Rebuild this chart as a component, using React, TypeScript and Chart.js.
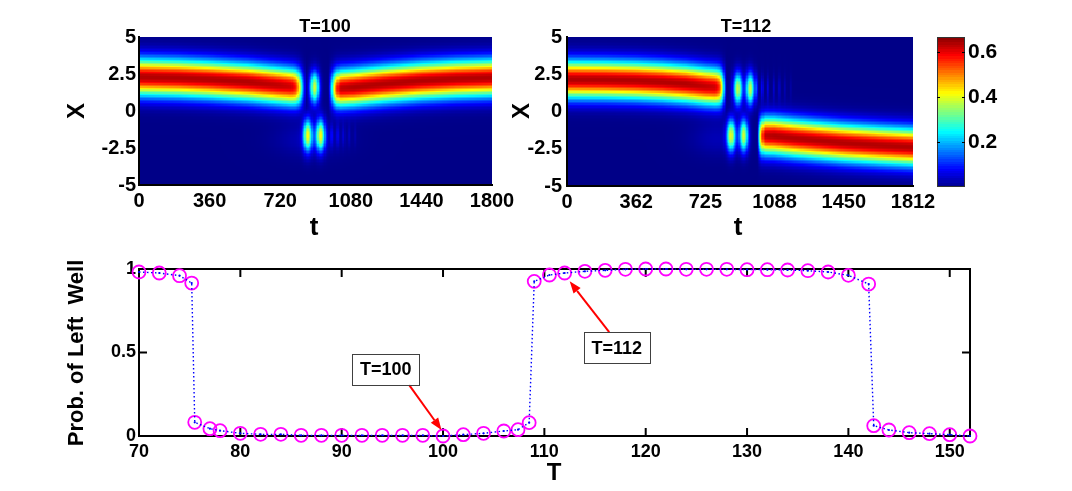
import React, { useEffect, useRef } from 'react';
import { Chart, registerables } from 'chart.js';

Chart.register(...registerables);

const FONT = "'Liberation Sans', Arial, Helvetica, sans-serif";

// ---------------- bottom panel: probability vs T ----------------
const sweepT = [70, 72, 74, 75.2, 75.5, 77, 78, 80, 82, 84, 86, 88, 90, 92, 94, 96, 98, 100, 102, 104, 106,
  107.4, 108.5, 109, 110.5, 112, 114, 116, 118, 120, 122, 124, 126, 128, 130, 132, 134, 136, 138, 140, 142,
  142.5, 144, 146, 148, 150, 152];
const probLeft = [0.982, 0.976, 0.96, 0.916, 0.082, 0.044, 0.032, 0.016, 0.01, 0.01, 0.004, 0.004, 0.004, 0.004,
  0.004, 0.004, 0.004, 0.0, 0.008, 0.016, 0.03, 0.038, 0.08, 0.926, 0.964, 0.976, 0.986, 0.992, 0.998, 1.0, 1.0,
  0.998, 0.998, 0.998, 0.996, 0.996, 0.994, 0.99, 0.982, 0.962, 0.91, 0.062, 0.036, 0.02, 0.014, 0.008, 0.0];
const sweepTicksX = [70, 80, 90, 100, 110, 120, 130, 140, 150];
const sweepTicksY = [0, 0.5, 1];

// annotations (data coordinates)
const noteLabels = ['T=100', 'T=112'];
const noteBoxT = [94.35, 117.15];
const noteBoxP = [0.40, 0.527];
const noteTailT = [96.65, 116.4];
const noteTailP = [0.306, 0.622];
const noteHeadT = [99.85, 112.5];
const noteHeadP = [0.036, 0.926];

// ---------------- heatmap panels ----------------
const t100Ticks = [0, 360, 720, 1080, 1440, 1800];
const t100TickLabels = ['0', '360', '720', '1080', '1440', '1800'];
const t112Ticks = [0, 362.4, 724.8, 1087.2, 1449.6, 1812];
const t112TickLabels = ['0', '362', '725', '1088', '1450', '1812'];
const xPosTicks = [-5, -2.5, 0, 2.5, 5];
const colorTicks = [0.2, 0.4, 0.6];
const colorMax = 0.668;

// T=100: ridge in the upper well before the crossing
const t100RidgeAT = [0, 200, 360, 560, 720, 780, 800, 812, 825, 840, 855];
const t100RidgeAX = [2.32, 2.26, 2.16, 1.98, 1.76, 1.68, 1.65, 1.63, 1.61, 1.59, 1.57];
const t100RidgeAP = [0.64, 0.64, 0.64, 0.64, 0.63, 0.62, 0.58, 0.5, 0.36, 0.17, 0.0];
// T=100: ridge in the upper well after the crossing
const t100RidgeBT = [968, 982, 995, 1010, 1030, 1100, 1250, 1440, 1620, 1800];
const t100RidgeBX = [1.52, 1.53, 1.54, 1.55, 1.57, 1.64, 1.85, 2.07, 2.2, 2.27];
const t100RidgeBP = [0.0, 0.18, 0.38, 0.55, 0.63, 0.64, 0.64, 0.64, 0.64, 0.64];
// T=100: lobes (t, x, peak, t-width, x-width)
const t100LobeT = [898, 863, 928, 880, 985, 1015, 1045, 1075, 1105];
const t100LobeX = [1.62, -1.6, -1.6, -1.9, -1.6, -1.6, -1.6, -1.6, -1.6];
const t100LobeP = [0.39, 0.39, 0.39, 0.035, 0.06, 0.05, 0.04, 0.03, 0.02];
const t100LobeWT = [24, 23, 23, 170, 7, 7, 7, 7, 7];
const t100LobeWX = [1.05, 1.05, 1.05, 1.1, 0.75, 0.75, 0.75, 0.75, 0.75];

// T=112: ridge in the upper well before the crossing
const t112RidgeAT = [0, 200, 362, 500, 627, 725, 780, 800, 812, 825, 838];
const t112RidgeAX = [2.18, 2.16, 2.11, 2.02, 1.89, 1.74, 1.68, 1.66, 1.65, 1.64, 1.63];
const t112RidgeAP = [0.64, 0.64, 0.64, 0.64, 0.64, 0.63, 0.62, 0.56, 0.45, 0.22, 0.0];
// T=112: ridge in the lower well after the crossing
const t112RidgeBT = [998, 1010, 1022, 1040, 1088, 1200, 1450, 1650, 1812];
const t112RidgeBX = [-1.64, -1.64, -1.63, -1.6, -1.62, -1.78, -2.08, -2.25, -2.36];
const t112RidgeBP = [0.0, 0.3, 0.52, 0.63, 0.64, 0.64, 0.64, 0.64, 0.64];
// T=112: lobes
const t112LobeT = [897, 962, 862, 928, 790, 995, 1025, 1055, 1085, 1115, 1145, 1175];
const t112LobeX = [1.56, 1.56, -1.58, -1.58, -1.8, 1.6, 1.6, 1.6, 1.6, 1.6, 1.6, 1.6];
const t112LobeP = [0.38, 0.38, 0.38, 0.38, 0.03, 0.09, 0.08, 0.065, 0.05, 0.04, 0.03, 0.02];
const t112LobeWT = [23, 23, 23, 23, 140, 6, 6, 6, 6, 6, 6, 6];
const t112LobeWX = [1.05, 1.05, 1.05, 1.05, 1.1, 0.85, 0.85, 0.85, 0.85, 0.85, 0.85, 0.85];

const RIDGE_WIDTH = 1.2;

function sampleRidge(ts: number[], xs: number[], ps: number[], t: number) {
  if (t < ts[0] || t > ts[ts.length - 1]) return null;
  for (let i = 0; i < ts.length - 1; i++) {
    if (t >= ts[i] && t <= ts[i + 1]) {
      const f = (t - ts[i]) / (ts[i + 1] - ts[i]);
      return { c: xs[i] + f * (xs[i + 1] - xs[i]), p: ps[i] + f * (ps[i + 1] - ps[i]) };
    }
  }
  return null;
}

type Cell = { x: number; y: number; v: number };

function buildCells(
  tMax: number,
  ridges: [number[], number[], number[]][],
  lobes: { t: number[]; x: number[]; p: number[]; wt: number[]; wx: number[] },
  nCols: number,
  nRows: number
) {
  const cells: Cell[] = [];
  const dt = tMax / nCols;
  const dx = 10 / nRows;
  for (let i = 0; i < nCols; i++) {
    const t = (i + 0.5) * dt;
    const rs = ridges.map((r) => sampleRidge(r[0], r[1], r[2], t)).filter(Boolean) as { c: number; p: number }[];
    for (let j = 0; j < nRows; j++) {
      const x = -5 + (j + 0.5) * dx;
      let v = 0;
      for (const r of rs) v += r.p * Math.exp(-(((x - r.c) / RIDGE_WIDTH) ** 2));
      for (let k = 0; k < lobes.t.length; k++) {
        v += lobes.p[k] * Math.exp(-(((t - lobes.t[k]) / lobes.wt[k]) ** 2) - ((x - lobes.x[k]) / lobes.wx[k]) ** 2);
      }
      cells.push({ x: t, y: x, v });
    }
  }
  return { cells, dt, dx };
}

function jet(v: number) {
  const s = Math.max(0, Math.min(1, v / colorMax));
  const q = s * (63 / 64) + 0.5 / 64;
  const ch = (o: number) => Math.round(255 * Math.max(0, Math.min(1, 1.5 - Math.abs(4 * q - o))));
  return `rgb(${ch(3)},${ch(2)},${ch(1)})`;
}

function cellPlugin(cw: number, chh: number) {
  return {
    id: 'cells',
    beforeDatasetsDraw(chart: any) {
      const ds = chart.data.datasets[0];
      const xs = chart.scales.x;
      const ys = chart.scales.y;
      const ctx = chart.ctx as CanvasRenderingContext2D;
      const { left, right, top, bottom } = chart.chartArea;
      ctx.save();
      ctx.beginPath();
      ctx.rect(left, top, right - left, bottom - top);
      ctx.clip();
      for (const c of ds.data as Cell[]) {
        const x0 = Math.floor(xs.getPixelForValue(c.x - cw / 2));
        const x1 = Math.ceil(xs.getPixelForValue(c.x + cw / 2));
        const y0 = Math.floor(ys.getPixelForValue(c.y + chh / 2));
        const y1 = Math.ceil(ys.getPixelForValue(c.y - chh / 2));
        ctx.fillStyle = jet(c.v);
        ctx.fillRect(x0, y0, x1 - x0, y1 - y0);
      }
      ctx.restore();
    },
  };
}

function textPlugin(items: { text: string; x: number; y: number; size: number; rotate?: boolean }[]) {
  return {
    id: 'texts',
    afterDraw(chart: any) {
      const ctx = chart.ctx as CanvasRenderingContext2D;
      ctx.save();
      ctx.fillStyle = '#000';
      ctx.textAlign = 'center';
      ctx.textBaseline = 'middle';
      for (const it of items) {
        ctx.font = `bold ${it.size}px ${FONT}`;
        ctx.save();
        ctx.translate(it.x, it.y);
        if (it.rotate) ctx.rotate(-Math.PI / 2);
        ctx.fillText(it.text, 0, 0);
        ctx.restore();
      }
      ctx.restore();
    },
  };
}

const tickFont = (size: number) => ({ family: FONT, size, weight: 'bold' as const });

function heatmapChart(
  canvas: HTMLCanvasElement,
  o: {
    grid: { cells: Cell[]; dt: number; dx: number };
    tMax: number;
    ticks: number[];
    tickLabels: string[];
    yAxisW: number;
    xAxisH: number;
    padRight: number;
    yTickPad: number;
    texts: { text: string; x: number; y: number; size: number; rotate?: boolean }[];
  }
) {
  return new Chart(canvas, {
    type: 'scatter',
    data: { datasets: [{ data: o.grid.cells as any, pointRadius: 0, pointHoverRadius: 0 }] },
    options: {
      responsive: false,
      animation: false,
      events: [],
      layout: { padding: { left: 0, top: 37, right: o.padRight, bottom: 0 } },
      plugins: { legend: { display: false }, tooltip: { enabled: false } },
      scales: {
        x: {
          type: 'linear',
          min: 0,
          max: o.tMax,
          afterBuildTicks: (s: any) => {
            s.ticks = o.ticks.map((v) => ({ value: v }));
          },
          afterFit: (s: any) => {
            s.height = o.xAxisH;
          },
          ticks: {
            autoSkip: false,
            maxRotation: 0,
            minRotation: 0,
            padding: 4,
            color: '#000',
            font: tickFont(20),
            callback: (_v: any, i: number) => o.tickLabels[i],
          },
          grid: { display: false, drawTicks: false },
          border: { display: true, color: '#000', width: 2, z: 1 },
        },
        y: {
          type: 'linear',
          min: -5,
          max: 5,
          afterBuildTicks: (s: any) => {
            s.ticks = xPosTicks.map((v) => ({ value: v }));
          },
          afterFit: (s: any) => {
            s.width = o.yAxisW;
          },
          ticks: {
            autoSkip: false,
            padding: o.yTickPad,
            color: '#000',
            font: tickFont(20),
            callback: (v: any) => String(v),
          },
          grid: { display: false, drawTicks: false },
          border: { display: true, color: '#000', width: 2, z: 1 },
        },
      },
    } as any,
    plugins: [cellPlugin(o.grid.dt, o.grid.dx), textPlugin(o.texts)],
  });
}

function colorbarChart(canvas: HTMLCanvasElement) {
  const n = 64;
  const h = colorMax / n;
  const cells: Cell[] = [];
  for (let i = 0; i < n; i++) cells.push({ x: 0.5, y: (i + 0.5) * h, v: (i + 0.5) * h });
  return new Chart(canvas, {
    type: 'scatter',
    data: { datasets: [{ data: cells as any, pointRadius: 0, pointHoverRadius: 0 }] },
    options: {
      responsive: false,
      animation: false,
      events: [],
      layout: { padding: { left: 37, top: 37, right: 0, bottom: 58 } },
      plugins: { legend: { display: false }, tooltip: { enabled: false } },
      scales: {
        x: { type: 'linear', min: 0, max: 1, display: false },
        y: {
          type: 'linear',
          position: 'right',
          min: 0,
          max: colorMax,
          afterBuildTicks: (s: any) => {
            s.ticks = colorTicks.map((v) => ({ value: v }));
          },
          afterFit: (s: any) => {
            s.width = 107;
          },
          ticks: { autoSkip: false, padding: 3, color: '#000', font: tickFont(21), callback: (v: any) => String(v) },
          grid: { display: false, drawTicks: false },
          border: { display: false },
        },
      },
    } as any,
    plugins: [
      cellPlugin(1, h),
      {
        id: 'cbFrame',
        afterDraw(chart: any) {
          const ctx = chart.ctx as CanvasRenderingContext2D;
          const { left, right, top, bottom } = chart.chartArea;
          const ys = chart.scales.y;
          ctx.save();
          ctx.strokeStyle = '#333';
          ctx.lineWidth = 1;
          ctx.strokeRect(left + 0.5, top + 0.5, right - left - 1, bottom - top - 1);
          ctx.strokeStyle = '#000';
          ctx.beginPath();
          for (const v of colorTicks) {
            const py = Math.round(ys.getPixelForValue(v)) + 0.5;
            ctx.moveTo(left, py);
            ctx.lineTo(left + 3, py);
            ctx.moveTo(right, py);
            ctx.lineTo(right - 3, py);
          }
          ctx.stroke();
          ctx.restore();
        },
      },
    ],
  });
}

function sweepChart(canvas: HTMLCanvasElement) {
  const pts = sweepT.map((t, i) => ({ x: t, y: probLeft[i] }));
  return new Chart(canvas, {
    type: 'line',
    data: {
      datasets: [
        {
          data: pts,
          showLine: false,
          pointRadius: 6.5,
          pointBorderColor: '#ff00ff',
          pointBackgroundColor: 'rgba(0,0,0,0)',
          pointBorderWidth: 1.8,
          clip: false,
          order: 2,
        },
        {
          data: pts,
          borderColor: '#0000ff',
          borderWidth: 1.4,
          borderDash: [1.5, 2.5],
          pointRadius: 1.1,
          pointBackgroundColor: '#0000ff',
          pointBorderWidth: 0,
          tension: 0,
          clip: false,
          order: 1,
        },
      ],
    },
    options: {
      responsive: false,
      animation: false,
      events: [],
      layout: { padding: { left: 0, top: 24, right: 102, bottom: 0 } },
      plugins: { legend: { display: false }, tooltip: { enabled: false } },
      scales: {
        x: {
          type: 'linear',
          min: 70,
          max: 152,
          afterBuildTicks: (s: any) => {
            s.ticks = sweepTicksX.map((v) => ({ value: v }));
          },
          afterFit: (s: any) => {
            s.height = 55;
          },
          ticks: { autoSkip: false, maxRotation: 0, padding: 5, color: '#000', font: tickFont(18), callback: (v: any) => String(v) },
          grid: { display: false, drawTicks: false },
          border: { display: true, color: '#000', width: 2, z: 0 },
        },
        y: {
          type: 'linear',
          min: 0,
          max: 1,
          afterBuildTicks: (s: any) => {
            s.ticks = sweepTicksY.map((v) => ({ value: v }));
          },
          afterFit: (s: any) => {
            s.width = 139;
          },
          ticks: { autoSkip: false, padding: 3, color: '#000', font: tickFont(18), callback: (v: any) => String(v) },
          grid: { display: false, drawTicks: false },
          border: { display: true, color: '#000', width: 2, z: 0 },
        },
      },
    } as any,
    plugins: [
      {
        id: 'frame',
        beforeDatasetsDraw(chart: any) {
          const ctx = chart.ctx as CanvasRenderingContext2D;
          const { left, right, top, bottom } = chart.chartArea;
          const xs = chart.scales.x;
          const ys = chart.scales.y;
          ctx.save();
          ctx.strokeStyle = '#000';
          ctx.lineWidth = 2;
          ctx.beginPath();
          ctx.moveTo(left, top);
          ctx.lineTo(right, top);
          ctx.lineTo(right, bottom);
          for (const v of sweepTicksX) {
            const px = xs.getPixelForValue(v);
            ctx.moveTo(px, bottom);
            ctx.lineTo(px, bottom - 8);
            ctx.moveTo(px, top);
            ctx.lineTo(px, top + 8);
          }
          for (const v of sweepTicksY) {
            const py = ys.getPixelForValue(v);
            ctx.moveTo(left, py);
            ctx.lineTo(left + 8, py);
            ctx.moveTo(right, py);
            ctx.lineTo(right - 8, py);
          }
          ctx.stroke();
          ctx.restore();
        },
        afterDatasetsDraw(chart: any) {
          const ctx = chart.ctx as CanvasRenderingContext2D;
          const xs = chart.scales.x;
          const ys = chart.scales.y;
          ctx.save();
          for (let i = 0; i < noteLabels.length; i++) {
            const tx = xs.getPixelForValue(noteTailT[i]);
            const ty = ys.getPixelForValue(noteTailP[i]);
            const hx = xs.getPixelForValue(noteHeadT[i]);
            const hy = ys.getPixelForValue(noteHeadP[i]);
            const ang = Math.atan2(hy - ty, hx - tx);
            const L = 12;
            const W = 4.5;
            const bx = hx - L * Math.cos(ang);
            const by = hy - L * Math.sin(ang);
            ctx.strokeStyle = '#ff0000';
            ctx.fillStyle = '#ff0000';
            ctx.lineWidth = 2;
            ctx.beginPath();
            ctx.moveTo(tx, ty);
            ctx.lineTo(bx, by);
            ctx.stroke();
            ctx.beginPath();
            ctx.moveTo(hx, hy);
            ctx.lineTo(bx + W * Math.sin(ang), by - W * Math.cos(ang));
            ctx.lineTo(bx - W * Math.sin(ang), by + W * Math.cos(ang));
            ctx.closePath();
            ctx.fill();
          }
          ctx.font = `bold 18px ${FONT}`;
          ctx.textAlign = 'center';
          ctx.textBaseline = 'middle';
          for (let i = 0; i < noteLabels.length; i++) {
            const cx = xs.getPixelForValue(noteBoxT[i]);
            const cy = ys.getPixelForValue(noteBoxP[i]);
            const w = ctx.measureText(noteLabels[i]).width + 15;
            const h = 31;
            ctx.fillStyle = '#fff';
            ctx.fillRect(cx - w / 2, cy - h / 2, w, h);
            ctx.strokeStyle = '#404040';
            ctx.lineWidth = 1;
            ctx.strokeRect(Math.round(cx - w / 2) + 0.5, Math.round(cy - h / 2) + 0.5, Math.round(w), h);
            ctx.fillStyle = '#000';
            ctx.fillText(noteLabels[i], cx, cy + 1);
          }
          ctx.restore();
        },
      },
      textPlugin([
        { text: 'Prob. of Left  Well', x: 77, y: 108, size: 22, rotate: true },
        { text: 'T', x: 554, y: 228, size: 24 },
      ]),
    ],
  });
}

export default function App() {
  const aRef = useRef<HTMLCanvasElement>(null);
  const bRef = useRef<HTMLCanvasElement>(null);
  const cRef = useRef<HTMLCanvasElement>(null);
  const dRef = useRef<HTMLCanvasElement>(null);

  useEffect(() => {
    const g100 = buildCells(
      1800,
      [
        [t100RidgeAT, t100RidgeAX, t100RidgeAP],
        [t100RidgeBT, t100RidgeBX, t100RidgeBP],
      ],
      { t: t100LobeT, x: t100LobeX, p: t100LobeP, wt: t100LobeWT, wx: t100LobeWX },
      300,
      100
    );
    const g112 = buildCells(
      1812,
      [
        [t112RidgeAT, t112RidgeAX, t112RidgeAP],
        [t112RidgeBT, t112RidgeBX, t112RidgeBP],
      ],
      { t: t112LobeT, x: t112LobeX, p: t112LobeP, wt: t112LobeWT, wx: t112LobeWX },
      302,
      100
    );
    const charts = [
      heatmapChart(aRef.current!, {
        grid: g100,
        tMax: 1800,
        ticks: t100Ticks,
        tickLabels: t100TickLabels,
        yAxisW: 139,
        xAxisH: 60,
        padRight: 38,
        yTickPad: 3,
        texts: [
          { text: 'T=100', x: 325, y: 27, size: 18 },
          { text: 'X', x: 77, y: 111, size: 24, rotate: true },
          { text: 't', x: 314, y: 228, size: 26 },
        ],
      }),
      heatmapChart(bRef.current!, {
        grid: g112,
        tMax: 1812,
        ticks: t112Ticks,
        tickLabels: t112TickLabels,
        yAxisW: 137,
        xAxisH: 59,
        padRight: 37,
        yTickPad: 5,
        texts: [
          { text: 'T=112', x: 316, y: 27, size: 18 },
          { text: 'X', x: 92, y: 111, size: 24, rotate: true },
          { text: 't', x: 308, y: 228, size: 26 },
        ],
      }),
      colorbarChart(cRef.current!),
      sweepChart(dRef.current!),
    ];
    return () => charts.forEach((c) => c.destroy());
  }, []);

  const abs = (left: number, top: number, w: number, h: number): React.CSSProperties => ({
    position: 'absolute',
    left,
    top,
    width: w,
    height: h,
  });

  return (
    <div style={{ position: 'fixed', left: 0, top: 0, width: 1072, height: 491, background: '#fff', overflow: 'hidden' }}>
      <canvas ref={aRef} width={530} height={245} style={abs(0, 0, 530, 245)} />
      <canvas ref={bRef} width={520} height={245} style={abs(430, 0, 520, 245)} />
      <canvas ref={cRef} width={172} height={245} style={abs(900, 0, 172, 245)} />
      <canvas ref={dRef} width={1072} height={246} style={abs(0, 245, 1072, 246)} />
    </div>
  );
}
